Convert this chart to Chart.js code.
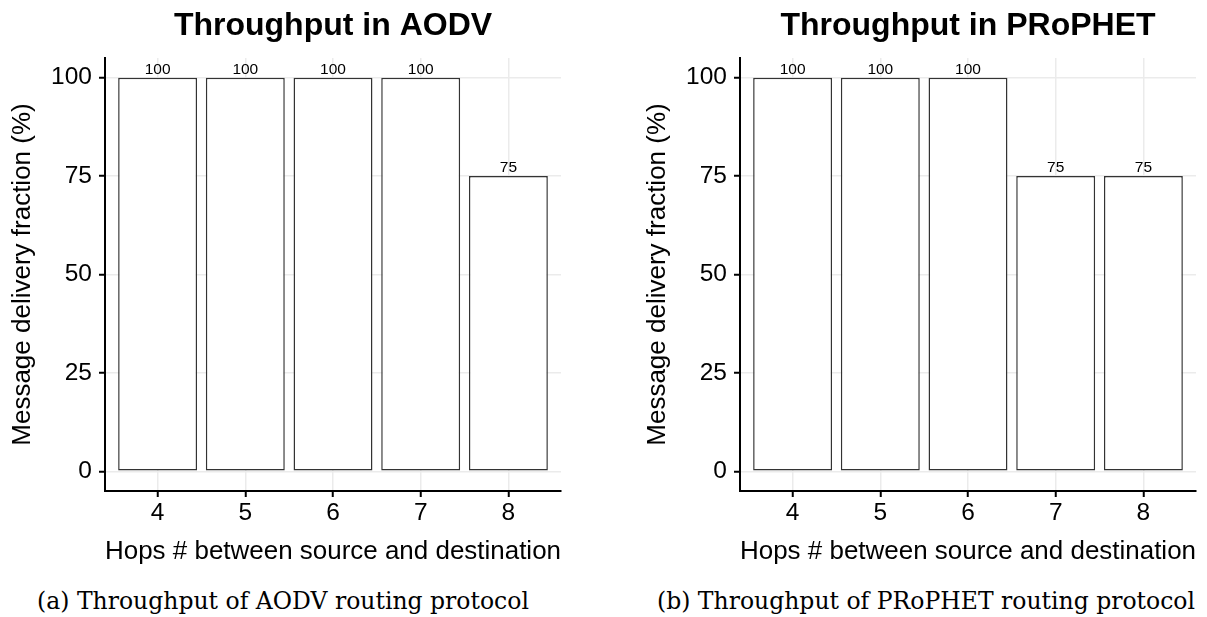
<!DOCTYPE html>
<html>
<head>
<meta charset="utf-8">
<script src="https://cdn.jsdelivr.net/npm/chart.js@4.4.1/dist/chart.umd.min.js"></script>
<style>
  html, body { margin: 0; padding: 0; background: #fff; }
  body { width: 1207px; height: 617px; position: relative; overflow: hidden; }
  canvas { position: absolute; top: 0; }
  #chartAodv { left: 0; }
  #chartProphet { left: 635px; }
  .caption {
    position: absolute;
    top: 590px;
    transform: translateX(-50%);
    white-space: nowrap;
    font-family: "DejaVu Serif", serif;
    font-size: 23.5px;
    line-height: 23.5px;
    color: #000;
  }
</style>
</head>
<body>
<canvas id="chartAodv" width="572" height="575"></canvas>
<canvas id="chartProphet" width="572" height="575"></canvas>
<div class="caption" style="left: 283px;">(a) Throughput of AODV routing protocol</div>
<div class="caption" style="left: 926px;">(b) Throughput of PRoPHET routing protocol</div>

<script>
// Hops between source and destination
const hops = [4, 5, 6, 7, 8];
// Message delivery fraction (%)
const aodvValues = [100, 100, 100, 100, 75];
const prophetValues = [100, 100, 100, 75, 75];
const yTicks = [0, 25, 50, 75, 100];

const sansFont = 'Liberation Sans, Arial, Helvetica, sans-serif';

// draws the value text just above each bar
const valueLabels = {
    id: 'valueLabels',
    afterDatasetsDraw(chart) {
        const ctx = chart.ctx;
        ctx.save();
        ctx.font = '15.5px ' + sansFont;
        ctx.fillStyle = '#000';
        ctx.textAlign = 'center';
        ctx.textBaseline = 'alphabetic';
        chart.data.datasets.forEach((ds, di) => {
            chart.getDatasetMeta(di).data.forEach((bar, i) => {
                ctx.fillText(ds.data[i].y, bar.x, bar.y - 4);
            });
        });
        ctx.restore();
    }
};

function makeChart(canvasId, titleText, values) {
    const ctx = document.getElementById(canvasId).getContext('2d');
    return new Chart(ctx, {
        type: 'bar',
        data: {
            datasets: [{
                data: hops.map((h, i) => ({ x: h, y: values[i] })),
                backgroundColor: '#ffffff',
                borderColor: '#333333',
                borderWidth: 1.5,
                borderSkipped: false,
                barPercentage: 0.9,
                categoryPercentage: 1,
            }],
        },
        options: {
            responsive: false,
            animation: false,
            layout: { padding: { left: 0, right: 11, top: 0, bottom: 0 } },
            plugins: {
                legend: { display: false },
                tooltip: { enabled: false },
                title: {
                    display: true,
                    text: titleText,
                    fullSize: false,
                    color: '#000',
                    font: { family: sansFont, size: 32, weight: 'bold' },
                    padding: { top: 7, bottom: 12.6 },
                },
            },
            scales: {
                x: {
                    type: 'linear',
                    min: 3.4,
                    max: 8.6,
                    offset: false,
                    afterBuildTicks: (scale) => { scale.ticks = hops.map(v => ({ value: v })); },
                    afterFit: (scale) => { scale.height = 84; },
                    grid: {
                        offset: false,
                        color: '#ebebeb',
                        lineWidth: 1.5,
                        tickColor: '#000',
                        tickLength: 6,
                        tickWidth: 2,
                    },
                    border: { color: '#000', width: 2 },
                    ticks: {
                        color: '#000',
                        font: { family: sansFont, size: 24.5 },
                        padding: 2,
                        autoSkip: false,
                        maxRotation: 0,
                    },
                    title: {
                        display: true,
                        text: 'Hops # between source and destination',
                        color: '#000',
                        font: { family: sansFont, size: 26 },
                        padding: { top: 8, bottom: 8 },
                    },
                },
                y: {
                    min: -5,
                    max: 105,
                    afterBuildTicks: (scale) => { scale.ticks = yTicks.map(v => ({ value: v })); },
                    afterFit: (scale) => { scale.width = 105; },
                    grid: {
                        color: '#ebebeb',
                        lineWidth: 1.5,
                        tickColor: '#000',
                        tickLength: 6,
                        tickWidth: 2,
                    },
                    border: { color: '#000', width: 2 },
                    ticks: {
                        color: '#000',
                        font: { family: sansFont, size: 24.5 },
                        padding: 7,
                    },
                    title: {
                        display: true,
                        text: 'Message delivery fraction (%)',
                        color: '#000',
                        font: { family: sansFont, size: 26 },
                        padding: { top: 7, bottom: 7 },
                    },
                },
            },
        },
        plugins: [valueLabels],
    });
}

makeChart('chartAodv', 'Throughput in AODV', aodvValues);
makeChart('chartProphet', 'Throughput in PRoPHET', prophetValues);
</script>
</body>
</html>
